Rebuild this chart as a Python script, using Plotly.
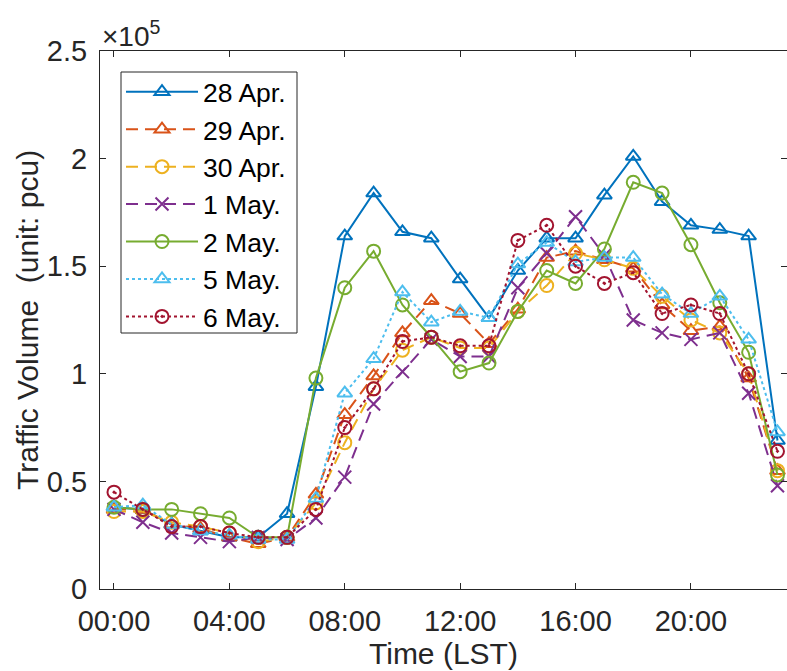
import plotly.graph_objects as go

hours = list(range(24))
tick_vals = [0, 4, 8, 12, 16, 20]
tick_text = ["00:00", "04:00", "08:00", "12:00", "16:00", "20:00"]
y_ticks = [0, 0.5, 1, 1.5, 2, 2.5]
y_ticktext = ["0", "0.5", "1", "1.5", "2", "2.5"]

# traffic volume in units of 1e5 pcu
apr28 = [0.38, 0.37, 0.30, 0.27, 0.24, 0.24, 0.35, 0.94, 1.64, 1.84, 1.66, 1.63, 1.44, 1.26,
         1.48, 1.63, 1.63, 1.83, 2.01, 1.80, 1.69, 1.67, 1.64, 0.69]
apr29 = [0.37, 0.37, 0.30, 0.28, 0.24, 0.21, 0.24, 0.44, 0.81, 0.99, 1.19, 1.34, 1.28, 1.14,
         1.30, 1.54, 1.57, 1.53, 1.49, 1.32, 1.20, 1.22, 0.98, 0.55]
apr30 = [0.36, 0.36, 0.31, 0.29, 0.26, 0.22, 0.24, 0.40, 0.68, 0.93, 1.11, 1.17, 1.12, 1.12,
         1.29, 1.41, 1.56, 1.53, 1.49, 1.36, 1.25, 1.19, 1.00, 0.55]
may1 = [0.37, 0.31, 0.26, 0.24, 0.22, 0.24, 0.23, 0.33, 0.52, 0.86, 1.01, 1.16, 1.08, 1.08,
        1.40, 1.56, 1.73, 1.55, 1.25, 1.19, 1.16, 1.19, 0.91, 0.48]
may2 = [0.38, 0.37, 0.37, 0.35, 0.33, 0.24, 0.24, 0.98, 1.40, 1.57, 1.32, 1.17, 1.01, 1.05,
        1.29, 1.48, 1.42, 1.58, 1.89, 1.84, 1.60, 1.33, 1.10, 0.53]
may5 = [0.38, 0.39, 0.30, 0.27, 0.25, 0.23, 0.23, 0.42, 0.91, 1.07, 1.38, 1.24, 1.29, 1.26,
        1.51, 1.61, 1.52, 1.54, 1.54, 1.37, 1.28, 1.36, 1.16, 0.73]
may6 = [0.45, 0.37, 0.29, 0.29, 0.26, 0.24, 0.24, 0.37, 0.75, 0.93, 1.15, 1.17, 1.13, 1.13,
        1.62, 1.69, 1.50, 1.42, 1.47, 1.28, 1.32, 1.28, 1.00, 0.64]

series = [
    ("28 Apr.", apr28, "#0072BD", "solid", "triangle-up-open"),
    ("29 Apr.", apr29, "#D95319", "12px,7px", "triangle-up-open"),
    ("30 Apr.", apr30, "#EDB120", "12px,7px", "circle-open"),
    ("1 May.", may1, "#7E2F8E", "12px,7px", "x-thin-open"),
    ("2 May.", may2, "#77AC30", "solid", "circle-open"),
    ("5 May.", may5, "#4DBEEE", "dot", "triangle-up-open"),
    ("6 May.", may6, "#A2142F", "dot", "circle-dot"),
]

fig = go.Figure()
for name, vals, color, dash, sym in series:
    fig.add_trace(go.Scatter(
        x=hours, y=vals, name=name, mode="lines+markers",
        line=dict(color=color, width=2, dash=dash),
        marker=dict(symbol=sym, size=13, color=color if sym != "circle-dot" else "rgba(0,0,0,0)",
                    line=dict(color=color, width=2)),
    ))

axis_col = "#262626"
font_fam = "Liberation Sans, Arial, sans-serif"
plot_w, plot_h, left, top = 687, 538, 100, 51


def px_x(p):
    return (p - left) / plot_w


def px_y(p):
    return 1 - (p - top) / plot_h


fig.update_layout(
    width=787, height=671,
    margin=dict(l=left, r=0, t=top, b=82),
    paper_bgcolor="white", plot_bgcolor="white",
    font=dict(family=font_fam, size=28, color=axis_col),
    showlegend=True,
    legend=dict(x=px_x(121), y=px_y(68), xanchor="left", yanchor="top",
                borderwidth=0, bgcolor="rgba(0,0,0,0)",
                font=dict(size=26.5, color="black"), itemwidth=72, tracegroupgap=0),
    shapes=[dict(type="rect", xref="paper", yref="paper",
                 x0=px_x(121), x1=px_x(297), y0=px_y(333), y1=px_y(72),
                 line=dict(color=axis_col, width=1), fillcolor="white", layer="above")],
    xaxis=dict(range=[-0.485, 23.33], tickvals=tick_vals, ticktext=tick_text,
               ticks="inside", ticklen=6, tickcolor=axis_col, showline=True,
               linecolor=axis_col, linewidth=1, mirror="ticks", showgrid=False,
               zeroline=False, ticklabelstandoff=6, tickfont=dict(size=29, color=axis_col)),
    yaxis=dict(range=[0, 2.5], tickvals=y_ticks, ticktext=y_ticktext,
               ticks="inside", ticklen=6, tickcolor=axis_col, showline=True,
               linecolor=axis_col, linewidth=1, mirror="ticks", showgrid=False,
               zeroline=False, ticklabelstandoff=6, tickfont=dict(size=29, color=axis_col)),
    annotations=[
        dict(text="Time (LST)", xref="paper", yref="paper", x=0.5, y=-(653 - 589) / 538,
             xanchor="center", yanchor="middle", showarrow=False,
             font=dict(size=30, color=axis_col)),
        dict(text="Traffic Volume\u00a0 (unit: pcu)", xref="paper", yref="paper",
             x=-73 / 687, y=0.5, xanchor="center", yanchor="middle", textangle=-90,
             showarrow=False, font=dict(size=30, color=axis_col)),
        dict(text="\u00d710<sup>5</sup>", xref="paper", yref="paper", x=0, y=0.994,
             xanchor="left", yanchor="bottom", showarrow=False,
             font=dict(size=28, color=axis_col)),
    ],
)

fig.write_html("out.html")
